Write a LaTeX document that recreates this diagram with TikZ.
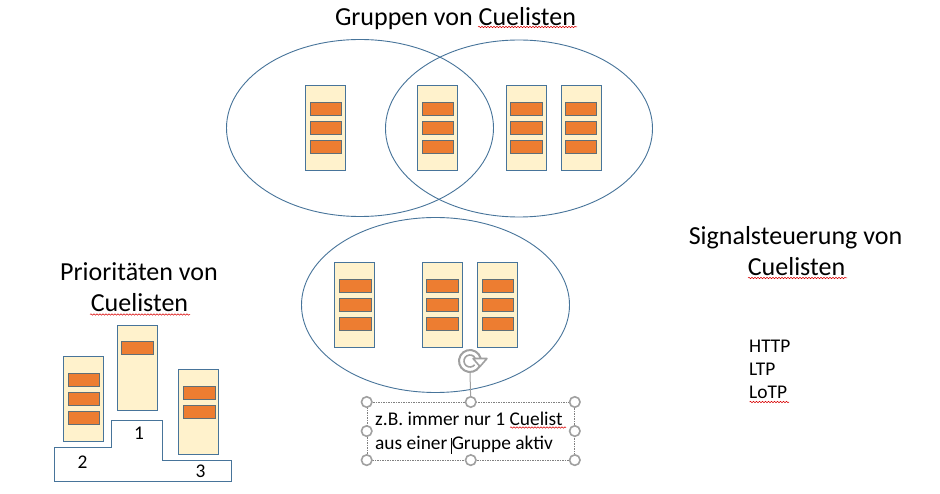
\documentclass[tikz,border=0pt]{standalone}
\usepackage{fontspec}
\setmainfont{Carlito}
\usetikzlibrary{decorations.pathmorphing,arrows.meta}
\definecolor{bord}{HTML}{47749A}
\definecolor{cardfill}{HTML}{FFF2CC}
\definecolor{barfill}{HTML}{ED7D31}
\definecolor{barline}{HTML}{5F6F78}
\definecolor{hand}{HTML}{A0A0A0}
\tikzset{
  cardbox/.style={draw=bord,fill=cardfill,line width=1pt,inner sep=0pt,minimum width=39.5pt,minimum height=84.5pt,anchor=north west},
  barbox/.style={draw=barline,fill=barfill,line width=1pt,inner sep=0pt,minimum width=31.5pt,minimum height=13pt,anchor=north west},
  title/.style={font=\fontsize{26}{26}\selectfont,inner sep=0pt,anchor=base,text=black},
  small/.style={font=\fontsize{19.4}{19.4}\selectfont,inner sep=0pt,anchor=base west,text=black},
  num/.style={font=\fontsize{19.4}{19.4}\selectfont,inner sep=0pt,anchor=base,text=black},
  spell/.style={draw=red!85!black,line width=0.5pt,decorate,decoration={snake,amplitude=0.7pt,segment length=3pt}},
  handle/.style={circle,draw=hand,fill=white,line width=1.6pt,inner sep=0pt,minimum size=10.5pt},
  selbox/.style={draw=gray,line width=0.6pt,dash pattern=on 1.5pt off 1pt,inner sep=0pt,minimum width=207.5pt,minimum height=57.5pt,anchor=north west},
}
\newcommand{\barsthree}[4]{%
  \node[cardbox] (#1) at (#2,#3) {};
  \node[barbox] (#1a) at (#2+#4,#3+17) {};
  \node[barbox] (#1b) at (#2+#4,#3+36) {};
  \node[barbox] (#1c) at (#2+#4,#3+54.5) {};
}
\begin{document}
\begin{tikzpicture}[x=1pt,y=-1pt]
\useasboundingbox (0,0) rectangle (940,494);
\fill[white] (0,0) rectangle (940,494);
% titles
\node[title] (t1) at (455.5,25.5) {Gruppen von Cuelisten};
\draw[spell] (478,27) -- (577,27);
\node[title] (t2a) at (139,280.5) {Prioritäten von};
\node[title] (t2b) at (139.5,312) {Cuelisten};
\draw[spell] (90,314.5) -- (190,314.5);
\node[title] (t3a) at (795.5,244.5) {Signalsteuerung von};
\node[title] (t3b) at (796.5,276) {Cuelisten};
\draw[spell] (748,278) -- (847,278);
% ellipses
\draw[bord,line width=0.9pt] (360,128) ellipse [x radius=133.5,y radius=88.5];
\draw[bord,line width=0.9pt] (519,128.5) ellipse [x radius=133.5,y radius=88.5];
\draw[bord,line width=0.9pt] (435.5,305) ellipse [x radius=134,y radius=87.5];
% upper cards
\barsthree{u1}{305.2}{85.5}{4.5}
\barsthree{u2}{417.2}{85.5}{4.5}
\barsthree{u3}{506}{85.5}{4}
\barsthree{u4}{561.2}{85.5}{3.7}
% lower cards
\barsthree{m1}{334}{262.5}{5}
\barsthree{m2}{422}{262.5}{4}
\barsthree{m3}{477}{262.5}{4.5}
% priorities
\draw[bord,line width=1pt] (54.3,447.3) -- (111.3,447.3) -- (111.3,420.3) -- (162.5,420.3) -- (162.5,460.3) -- (231.7,460.3) -- (231.7,481.7) -- (54.3,481.7) -- cycle;
\barsthree{p1}{63.3}{356.3}{4.4}
\node[cardbox] (p2) at (117.3,325.3) {};
\node[barbox] (p2a) at (121.3,341.3) {};
\node[cardbox] (p3) at (178.3,369.3) {};
\node[barbox] (p3a) at (183.3,386.3) {};
\node[barbox] (p3b) at (183.3,405.3) {};
\node[num] (n1) at (139,439.5) {1};
\node[num] (n2) at (82.5,468) {2};
\node[num] (n3) at (200.5,477.5) {3};
% protocols
\node[small] (h1) at (749,352.5) {HTTP};
\node[small] (h2) at (749,375.5) {LTP};
\node[small] (h3) at (749,399) {LoTP};
\draw[spell] (749.5,402) -- (789,402);
% selected text box
\node[selbox] (sel) at (366.7,402) {};
\coordinate (rot) at (470,372);
\draw[hand,line width=1pt] (sel.north) -- (rot);
\draw[hand,line width=2pt] (470,361) ++(30:11) arc [start angle=30,end angle=345,radius=11];
\draw[hand,line width=1.6pt] (470,361) ++(40:6) arc [start angle=40,end angle=350,radius=6];
\draw[hand,line width=1.6pt,fill=white,line join=round] (473,358.5) -- (487,358.5) -- (480,366.5) -- cycle;
\node[small] (s1) at (375,425.5) {z.B. immer nur 1 Cuelist};
\node[small] (s2) at (375,449.5) {aus einer Gruppe aktiv};
\draw[spell] (510,427.5) -- (566,427.5);
\draw[black,line width=0.7pt] (451.3,438) -- (451.3,453.5);
\foreach \a/\n in {north west/a,north/b,north east/c,west/d,east/e,south west/f,south/g,south east/h}
  \node[handle] (hd\n) at (sel.\a) {};
\end{tikzpicture}
\end{document}
